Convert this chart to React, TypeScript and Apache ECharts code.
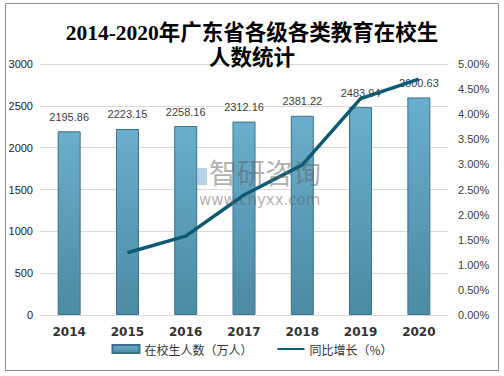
import React, { useEffect, useRef } from "react";
import * as echarts from "echarts";

const years = ["2014", "2015", "2016", "2017", "2018", "2019", "2020"];
const students = [2195.86, 2223.15, 2258.16, 2312.16, 2381.22, 2483.94, 2600.63];
const growth = [null, 1.24, 1.57, 2.39, 2.99, 4.31, 4.7];
const leftTicks = { min: 0, max: 3000, interval: 500 };
const rightTicks = { min: 0, max: 5, interval: 0.5 };

export default function App() {
  const ref = useRef<HTMLDivElement>(null);
  useEffect(() => {
    document.body.style.margin = "0";
    const chart = echarts.init(ref.current!, null, { renderer: "svg" });
    chart.setOption({
      animation: false,
      backgroundColor: "#fff",
      title: {
        text: "2014-2020年广东省各级各类教育在校生\n人数统计",
        left: "center",
        top: 15,
        textStyle: {
          fontFamily: "'Liberation Serif', 'DejaVu Serif', 'Noto Sans CJK SC', serif",
          fontSize: 21.5,
          fontWeight: "bold",
          color: "#000",
          lineHeight: 25,
        },
      },
      graphic: [
        {
          type: "rect",
          shape: { x: 5.5, y: 3.5, width: 493, height: 367 },
          style: { fill: "none", stroke: "#8c8c8c", lineWidth: 1 },
          silent: true,
        },
        {
          type: "rect",
          left: 197,
          top: 168,
          z: 100,
          shape: { width: 10, height: 17 },
          style: { fill: "rgba(110,165,210,0.5)" },
          silent: true,
        },
        {
          type: "text",
          left: 209,
          top: 158,
          z: 100,
          silent: true,
          style: {
            text: "智研咨询",
            font: "28px 'Noto Sans CJK SC'",
            fill: "rgba(100,100,100,0.5)",
          },
        },
        {
          type: "text",
          left: 199,
          top: 192,
          z: 100,
          silent: true,
          style: {
            text: "www.chyxx.com",
            font: "15px 'DejaVu Sans'",
            fill: "rgba(100,100,100,0.5)",
          },
        },
      ],
      legend: {
        left: "center",
        bottom: 16,
        itemGap: 24,
        itemWidth: 27,
        itemHeight: 8,
        textStyle: { fontSize: 12, color: "#333", fontFamily: "'Noto Sans CJK SC', sans-serif" },
        data: [
          { name: "在校生人数（万人）", icon: "rect" },
          { name: "同比增长（%）", itemStyle: { opacity: 0 } },
        ],
      },
      grid: { left: 40, right: 56, top: 64, bottom: 61 },
      xAxis: {
        type: "category",
        data: years,
        axisLine: { lineStyle: { color: "#d9d9d9" } },
        axisTick: { show: false },
        axisLabel: {
          fontSize: 12,
          fontWeight: "bold",
          color: "#333",
          margin: 11,
          fontFamily: "'DejaVu Sans', sans-serif",
        },
      },
      yAxis: [
        {
          type: "value",
          min: leftTicks.min,
          max: leftTicks.max,
          interval: leftTicks.interval,
          axisLine: { show: false },
          axisTick: { show: false },
          splitLine: { lineStyle: { color: "#d9d9d9" } },
          axisLabel: {
            fontSize: 11,
            color: "#222",
            margin: 7,
            fontFamily: "'Liberation Sans', Arial, sans-serif",
            formatter: (v: number) => String(v),
          },
        },
        {
          type: "value",
          min: rightTicks.min,
          max: rightTicks.max,
          interval: rightTicks.interval,
          axisLine: { show: false },
          axisTick: { show: false },
          splitLine: { show: false },
          axisLabel: {
            fontSize: 11,
            color: "#404040",
            margin: 10,
            fontFamily: "'Liberation Sans', Arial, sans-serif",
            formatter: (v: number) => v.toFixed(2) + "%",
          },
        },
      ],
      series: [
        {
          name: "在校生人数（万人）",
          type: "bar",
          data: students,
          barWidth: 23,
          itemStyle: {
            color: new echarts.graphic.LinearGradient(0, 0, 0, 1, [
              { offset: 0, color: "#6aaecd" },
              { offset: 1, color: "#4d8aa3" },
            ]),
            borderColor: "#3c7189",
            borderWidth: 1,
          },
          label: {
            show: true,
            position: "top",
            distance: 9,
            fontSize: 11,
            color: "#404040",
            fontFamily: "'Liberation Sans', Arial, sans-serif",
            formatter: (p: any) => p.value.toFixed(2),
          },
        },
        {
          name: "同比增长（%）",
          type: "line",
          yAxisIndex: 1,
          data: growth,
          symbol: "none",
          lineStyle: { color: "#0d5a74", width: 3.5 },
          itemStyle: { color: "#0d5a74" },
          z: 5,
        },
      ],
    });
    return () => chart.dispose();
  }, []);
  return <div ref={ref} style={{ width: 504, height: 376 }} />;
}
